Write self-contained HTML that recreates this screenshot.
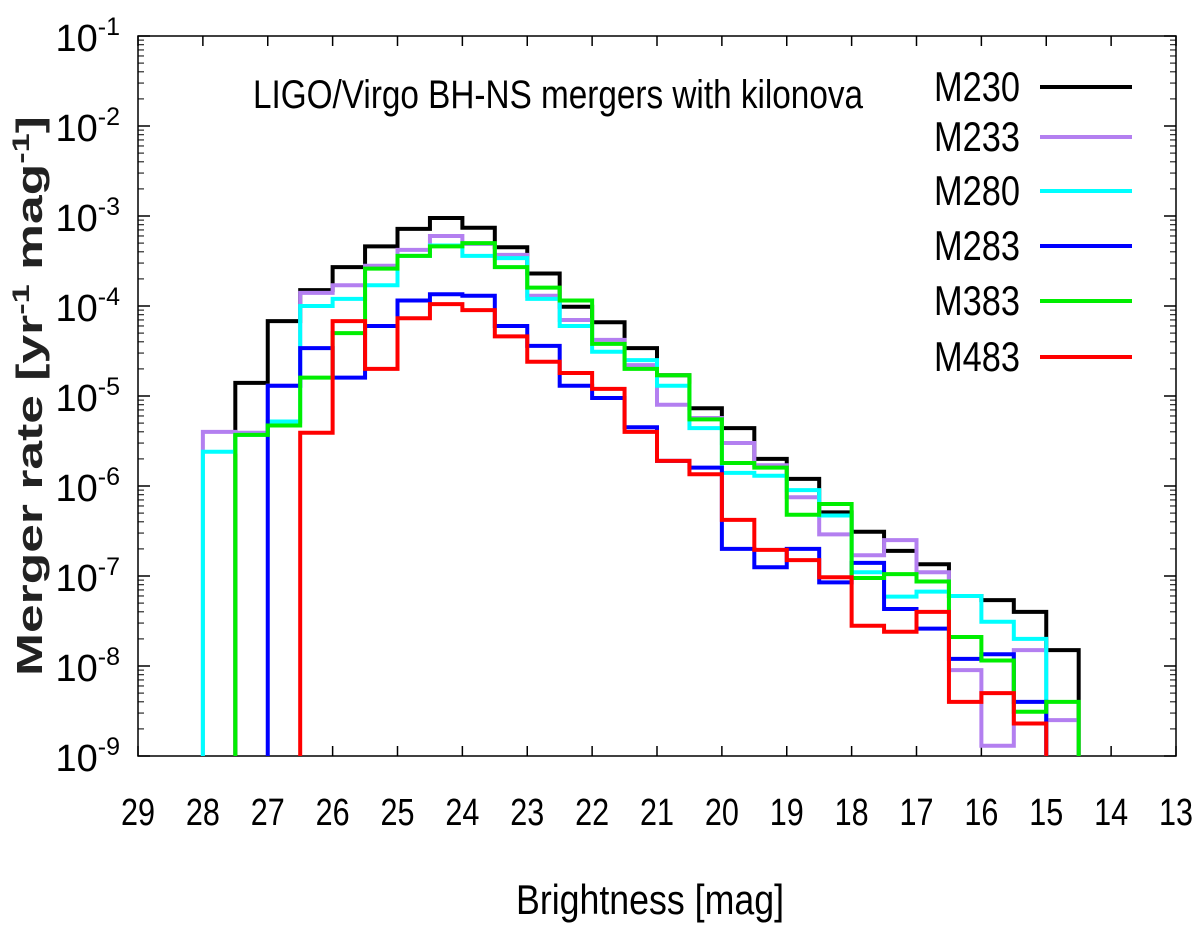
<!DOCTYPE html>
<html><head><meta charset="utf-8"><style>
html,body{margin:0;padding:0;background:#fff;}
svg{display:block;font-family:"Liberation Sans Narrow","Liberation Sans",sans-serif;}
</style></head><body>
<svg id="chart" width="1200" height="931" viewBox="0 0 1200 931" xmlns="http://www.w3.org/2000/svg">
<rect x="138" y="36" width="1038" height="720" fill="none" stroke="#000" stroke-width="1.5"/>
<g id="ticks"></g>
<g id="series"></g>
<text x="558" y="108" font-size="40" text-anchor="middle" textLength="610" lengthAdjust="spacingAndGlyphs">LIGO/Virgo BH-NS mergers with kilonova</text>
<text x="650" y="914" font-size="42" text-anchor="middle" textLength="268" lengthAdjust="spacingAndGlyphs">Brightness [mag]</text>
<text transform="translate(42,396) rotate(-90)" font-size="36" font-weight="bold" fill="#222" text-anchor="middle" textLength="560" lengthAdjust="spacingAndGlyphs">Merger rate [yr<tspan dy="-13" font-size="24">-1</tspan><tspan dy="13"> mag</tspan><tspan dy="-13" font-size="24">-1</tspan><tspan dy="13">]</tspan></text>
<g id="legend"></g>
</svg>
<script>
const NS="http://www.w3.org/2000/svg";
const edgesStart=28, binW=0.5;
const seriesNames=["M230","M233","M280","M283","M383","M483"];
const seriesColors=["#000000","#b37ff0","#00ffff","#0000ff","#00ee00","#ff0000"];
const m230Start=27.5;
const m230=[1.4e-5,6.8e-5,1.5e-4,2.7e-4,4.6e-4,7.2e-4,9.5e-4,7.4e-4,4.5e-4,2.3e-4,9.8e-5,6.6e-5,3.4e-5,1.7e-5,7.3e-6,4.4e-6,2.0e-6,1.2e-6,5.1e-7,3.1e-7,1.9e-7,1.35e-7,6.0e-8,5.4e-8,4.0e-8,1.5e-8];
const m233Start=28;
const m233=[4e-6,3.9e-6,1.3e-5,1.4e-4,1.7e-4,2.8e-4,4.2e-4,6.0e-4,4.9e-4,3.7e-4,1.3e-4,7e-5,4.2e-5,2.2e-5,8e-6,5.7e-6,3e-6,1.7e-6,7.5e-7,2.9e-7,1.7e-7,2.5e-7,1.1e-7,9e-9,1.3e-9,1.5e-8,2.5e-9];
const m280Start=28;
const m280=[2.4e-6,3.7e-6,5.2e-6,1.0e-4,1.2e-4,1.7e-4,3.6e-4,4.7e-4,3.6e-4,3.4e-4,1.2e-4,6e-5,3.1e-5,2.5e-5,1.3e-5,4.4e-6,1.4e-6,1.3e-6,9e-7,4.7e-7,1.1e-7,5.9e-8,6.7e-8,6.0e-8,3.1e-8,2e-8];
const m283Start=27;
const m283=[1.3e-5,3.4e-5,1.6e-5,6.0e-5,1.15e-4,1.35e-4,1.3e-4,6e-5,3.6e-5,1.3e-5,9.5e-6,4.5e-6,1.9e-6,1.6e-6,2e-7,1.25e-7,2e-7,8.5e-8,1.4e-7,4.3e-8,2.6e-8,1.2e-8,1.35e-8,4e-9];
const m383Start=27.5;
const m383=[3.7e-6,4.7e-6,1.6e-5,5e-5,2.6e-4,3.6e-4,4.6e-4,5e-4,2.7e-4,1.6e-4,1.15e-4,3.8e-5,2e-5,1.7e-5,5.5e-6,1.8e-6,1.6e-6,4.8e-7,6.3e-7,9.5e-8,1.05e-7,8.7e-8,2.1e-8,1.15e-8,3.1e-9,4e-9];
const m483Start=26.5;
const m483=[3.9e-6,6.8e-5,2e-5,7.3e-5,1.05e-4,9e-5,4.6e-5,2.4e-5,1.8e-5,1.2e-5,4e-6,1.9e-6,1.35e-6,4.2e-7,1.95e-7,1.5e-7,9.7e-8,2.8e-8,2.4e-8,4e-8,4e-9,5e-9,2.3e-9];
const xTicks=[29,28,27,26,25,24,23,22,21,20,19,18,17,16,15,14,13];
const yExps=[-1,-2,-3,-4,-5,-6,-7,-8,-9];

const X0=138,X1=1176,Y0=36,Y1=756;
function xs(m){return X0+(29-m)/16*(X1-X0);}
function ys(v){const l=Math.log10(v);return Y0+(-1-l)/8*(Y1-Y0);}
function mk(tag,attrs,parent){const e=document.createElementNS(NS,tag);for(const k in attrs)e.setAttribute(k,attrs[k]);parent.appendChild(e);return e;}

const tg=document.getElementById('ticks');
xTicks.forEach(t=>{
  const x=xs(t);
  const l1=mk('line',{x1:x,x2:x,y1:Y1,y2:Y1-10,stroke:'#000','stroke-width':1.5},tg);
  
  
  const l2=mk('line',{x1:x,x2:x,y1:Y0,y2:Y0+10,stroke:'#000','stroke-width':1.5},tg);
  
  
  const tx=mk('text',{x:x,y:825,'font-size':38,'text-anchor':'middle',textLength:34,lengthAdjust:'spacingAndGlyphs'},tg);
  tx.textContent=t;
  
  
});
yExps.forEach(e=>{
  const y=ys(Math.pow(10,e));
  const l=mk('line',{x1:X0,x2:X0+12,y1:y,y2:y,stroke:'#000','stroke-width':1.5},tg);
  
  
  const r=mk('line',{x1:X1,x2:X1-12,y1:y,y2:y,stroke:'#000','stroke-width':1.5},tg);
  
  
  if(e>-9){for(let k=2;k<10;k++){const yy=ys(k*Math.pow(10,e-1));
    const m1=mk('line',{x1:X0,x2:X0+6,y1:yy,y2:yy,stroke:'#000','stroke-width':1},tg);
    
    
    const m2=mk('line',{x1:X1,x2:X1-6,y1:yy,y2:yy,stroke:'#000','stroke-width':1},tg);
    
    }}
  const tx=mk('text',{x:120,y:y+15,'font-size':38,'text-anchor':'end'},tg);
  tx.innerHTML='10<tspan dy="-16" font-size="25">'+e+'</tspan>';
  
  
});

const sg=document.getElementById('series');
const allData=[[m230Start,m230],[m233Start,m233],[m280Start,m280],[m283Start,m283],[m383Start,m383],[m483Start,m483]];
allData.forEach((sd,i)=>{
  const start=sd[0],vals=sd[1];
  let d='M'+xs(start)+','+Y1;
  vals.forEach((v,j)=>{
    const a=start-j*binW,b=a-binW,y=ys(v);
    d+=' L'+xs(a)+','+y+' L'+xs(b)+','+y;
  });
  d+=' L'+xs(start-vals.length*binW)+','+Y1;
  const p=mk('path',{d:d,fill:'none',stroke:seriesColors[i],'stroke-width':4,'stroke-linejoin':'miter'},sg);
  
  
});
const lg=document.getElementById('legend');
const legY=[87,137,191,246,301,357];
seriesNames.forEach((n,i)=>{
  const t=mk('text',{x:1020,y:legY[i]+14,'font-size':42,'text-anchor':'end',textLength:86,lengthAdjust:'spacingAndGlyphs'},lg);
  t.textContent=n;
  
  
  const l=mk('line',{x1:1040,x2:1132,y1:legY[i],y2:legY[i],stroke:seriesColors[i],'stroke-width':4},lg);
  
  
});
</script>
</body></html>
